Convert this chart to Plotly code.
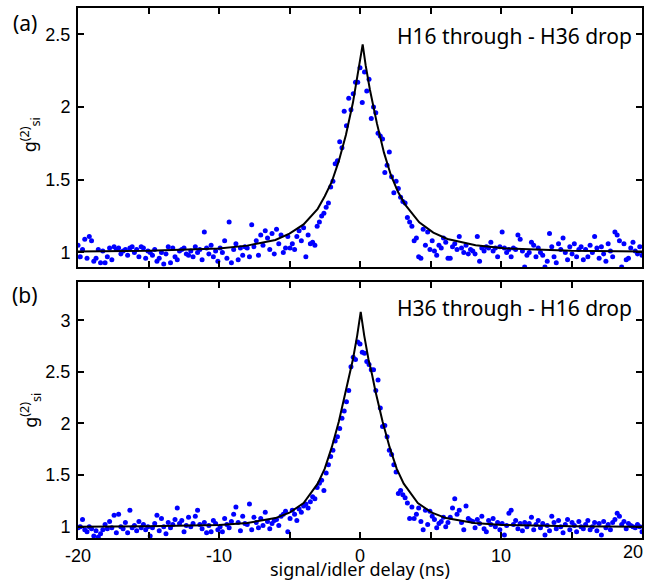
import numpy as np
import plotly.graph_objects as go

# ---------------- data ----------------
# delay bins (ns), 0.16 ns histogram bins from -20 to 20
delay_ns = np.round(np.arange(-20.0, 20.0001, 0.16), 2)

g2_a = [
    1.05, 0.97, 1.02, 1.09, 0.96, 1.11, 1.08, 0.94, 0.96, 1.02, 0.93, 1.01, 0.93, 0.97, 1.03, 0.95, 1.04, 1.02, 1.03, 0.99, 1.01, 1.02, 0.98, 1.03, 1.04,
    1.00, 1.02, 0.97, 1.04, 1.03, 0.96, 1.01, 1.00, 0.98, 1.02, 0.94, 0.96, 1.00, 0.92, 0.99, 1.04, 0.93, 1.03, 0.97, 0.95, 1.01, 1.02, 1.03, 0.99, 0.98,
    1.01, 0.97, 1.04, 1.00, 1.02, 0.95, 1.14, 1.03, 0.99, 1.05, 0.97, 1.01, 0.94, 1.03, 1.00, 1.08, 0.96, 1.21, 0.93, 1.02, 1.06, 0.95, 1.03, 0.98, 1.04,
    1.03, 0.97, 1.19, 1.04, 1.08, 0.98, 1.12, 1.05, 1.15, 1.10, 1.02, 1.13, 0.99, 1.16, 1.06, 1.12, 1.00, 1.03, 1.11, 1.03, 1.06, 1.02, 1.11, 1.15, 1.08,
    1.17, 0.97, 1.12, 1.06, 1.07, 1.05, 1.18, 1.21, 1.25, 1.27, 1.31, 1.34, 1.45, 1.49, 1.61, 1.63, 1.76, 1.72, 1.97, 1.87, 2.06, 1.98, 2.09, 2.17, 2.17,
    2.27, 2.03, 2.24, 2.11, 2.19, 1.92, 2.00, 1.96, 1.82, 1.80, 1.78, 1.55, 1.60, 1.69, 1.52, 1.41, 1.49, 1.44, 1.38, 1.35, 1.34, 1.24, 1.21, 1.18, 1.08,
    1.10, 0.97, 0.96, 1.16, 1.05, 1.14, 1.02, 1.08, 1.01, 0.98, 1.05, 1.03, 1.10, 1.07, 0.96, 0.96, 1.04, 1.06, 1.02, 1.11, 1.03, 1.00, 1.05, 0.99, 1.02,
    1.01, 0.99, 1.11, 0.94, 1.03, 1.01, 1.04, 1.03, 1.07, 1.01, 1.03, 0.97, 1.04, 1.14, 1.03, 1.00, 1.02, 0.97, 1.03, 1.02, 1.12, 1.09, 1.01, 0.90, 0.98,
    1.00, 1.07, 1.05, 0.97, 1.03, 1.00, 0.98, 0.90, 0.94, 1.13, 1.04, 0.97, 0.93, 1.06, 1.02, 1.10, 1.00, 0.95, 1.04, 0.99, 1.06, 0.97, 1.02, 1.04, 0.95,
    1.02, 0.97, 1.05, 1.00, 1.11, 1.03, 0.96, 1.04, 0.99, 0.94, 1.06, 1.01, 0.97, 1.14, 1.12, 1.08, 0.90, 1.06, 0.95, 0.96, 1.03, 1.07, 1.01, 0.99, 1.04,
    0.98,
]

g2_b = [
    0.99, 1.00, 1.07, 0.97, 0.95, 1.00, 0.98, 0.91, 0.96, 0.90, 0.93, 0.97, 1.02, 0.98, 1.05, 0.99, 1.11, 0.94, 1.12, 1.00, 0.98, 1.04, 0.94, 1.16, 0.99,
    1.01, 0.96, 1.05, 0.99, 1.02, 0.97, 1.00, 0.91, 0.99, 1.03, 1.11, 0.96, 1.08, 1.00, 0.93, 1.04, 0.99, 1.02, 1.07, 1.18, 1.03, 1.06, 0.95, 1.01, 1.09,
    1.00, 1.03, 1.10, 1.16, 1.02, 0.98, 1.04, 0.94, 1.01, 0.95, 1.06, 1.03, 0.97, 1.00, 0.95, 1.08, 1.02, 0.99, 1.05, 1.12, 1.19, 1.04, 0.96, 1.10, 1.03,
    1.02, 1.22, 0.97, 1.09, 1.04, 0.99, 1.08, 1.01, 1.14, 1.05, 0.98, 1.03, 1.06, 1.07, 1.01, 1.10, 1.12, 1.15, 0.95, 1.08, 1.16, 1.12, 1.06, 1.17, 1.14,
    1.20, 1.22, 1.18, 1.24, 1.29, 1.27, 1.38, 1.42, 1.45, 1.35, 1.52, 1.60, 1.68, 1.74, 1.83, 1.87, 1.95, 2.05, 2.12, 2.21, 2.32, 2.55, 2.64, 2.62, 2.79,
    2.77, 2.69, 2.68, 2.60, 2.57, 2.52, 2.52, 2.32, 2.42, 2.15, 1.97, 1.98, 1.87, 1.74, 1.70, 1.60, 1.53, 1.32, 1.35, 1.31, 1.28, 1.23, 1.08, 1.19, 1.08,
    1.12, 1.18, 1.05, 0.97, 1.16, 1.02, 1.15, 1.10, 1.07, 0.99, 1.03, 1.05, 1.09, 1.00, 1.04, 1.09, 1.18, 1.27, 1.12, 1.16, 1.04, 0.97, 1.20, 1.08, 1.06,
    1.05, 0.99, 1.07, 1.03, 1.10, 0.98, 0.95, 1.06, 1.02, 1.08, 1.00, 1.04, 0.97, 1.03, 0.92, 1.01, 1.13, 1.16, 1.02, 1.06, 0.98, 1.03, 0.96, 1.04, 1.00,
    1.03, 1.09, 0.97, 1.02, 1.06, 0.99, 1.03, 0.92, 1.01, 0.96, 1.10, 1.04, 0.98, 1.06, 1.00, 0.94, 1.02, 1.07, 0.97, 1.04, 1.01, 0.95, 1.05, 1.00, 0.98,
    1.02, 1.06, 0.97, 1.00, 1.04, 0.96, 1.03, 0.92, 1.05, 0.99, 1.02, 0.97, 1.04, 1.07, 1.13, 1.10, 1.02, 1.05, 0.98, 1.03, 1.01, 1.00, 0.99, 1.02, 1.00,
    0.95,
]

# fitted curves
fit_a_x = [-20, -15, -10, -8, -6, -5, -4, -3.5, -3, -2.5, -2, -1.5, -1, -0.5, -0.2, 0, 0.19,
           0.4, 0.7, 1.2, 1.7, 2.2, 2.7, 3.2, 3.9, 4.2, 5.2, 6.2, 8.2, 10.2, 15, 20]
fit_a_y = [1.006, 1.011, 1.027, 1.047, 1.086, 1.129, 1.193, 1.243, 1.300, 1.386, 1.486, 1.629, 1.808, 2.030, 2.194, 2.300, 2.430,
           2.287, 2.120, 1.887, 1.686, 1.529, 1.415, 1.329, 1.243, 1.207, 1.136, 1.093, 1.050, 1.029, 1.011, 1.006]

fit_b_x = [-20, -15, -10, -8, -6, -5, -4, -3, -2.5, -2, -1.5, -1, -0.75, -0.5, -0.2, 0.05,
           0.3, 0.6, 0.85, 1.1, 1.6, 2.1, 2.6, 3.1, 4.1, 5.1, 6.1, 8.1, 10.1, 15, 20]
fit_b_y = [1.000, 1.004, 1.017, 1.035, 1.083, 1.135, 1.229, 1.416, 1.562, 1.770, 2.019, 2.310, 2.477, 2.622, 2.851, 3.080,
           2.851, 2.622, 2.477, 2.310, 2.019, 1.770, 1.562, 1.416, 1.229, 1.135, 1.083, 1.035, 1.017, 1.004, 1.000]

x_tickvals = [-20, -15, -10, -5, 0, 5, 10, 15, 20]
x_ticktext = ["-20", "", "-10", "", "0", "", "10", "", ""]
x_last_label = "20"
ya_tickvals = [1, 1.5, 2, 2.5]
ya_ticktext = ["1", "1.5", "2", "2.5"]
yb_tickvals = [1, 1.5, 2, 2.5, 3]
yb_ticktext = ["1", "1.5", "2", "2.5", "3"]

# ---------------- figure ----------------
MARK = dict(color="#0000ff", size=5)
LINE = dict(color="black", width=2)

fig = go.Figure()
fig.add_trace(go.Scatter(x=delay_ns, y=g2_a, mode="markers", marker=MARK, xaxis="x", yaxis="y", showlegend=False))
fig.add_trace(go.Scatter(x=fit_a_x, y=fit_a_y, mode="lines", line=LINE, xaxis="x", yaxis="y", showlegend=False))
fig.add_trace(go.Scatter(x=delay_ns, y=g2_b, mode="markers", marker=MARK, xaxis="x2", yaxis="y2", showlegend=False))
fig.add_trace(go.Scatter(x=fit_b_x, y=fit_b_y, mode="lines", line=LINE, xaxis="x2", yaxis="y2", showlegend=False))

TICK_FAMILY = "Liberation Sans, Arial, sans-serif"
tickfont = dict(family=TICK_FAMILY, size=18, color="black")
axis_common = dict(showline=True, linecolor="black", linewidth=2, mirror="allticks",
                   ticks="inside", ticklen=6, tickwidth=1.5, tickcolor="black",
                   showgrid=False, zeroline=False, tickfont=tickfont, automargin=False)

fig.update_layout(
    width=646, height=582,
    margin=dict(l=78, r=4, t=8, b=44, autoexpand=False),
    paper_bgcolor="white", plot_bgcolor="white",
    xaxis=dict(domain=[0, 1], anchor="y", range=[-20, 20], tickvals=x_tickvals, ticktext=x_ticktext,
               showticklabels=False, **axis_common),
    yaxis=dict(domain=[0.5113, 1], anchor="x", range=[0.9, 2.68], tickvals=ya_tickvals, ticktext=ya_ticktext,
               ticklabelstandoff=2, **axis_common),
    xaxis2=dict(domain=[0, 1], anchor="y2", range=[-20, 20], tickvals=x_tickvals, ticktext=x_ticktext,
                ticklabelstandoff=0, **axis_common),
    yaxis2=dict(domain=[0, 0.483], anchor="x2", range=[0.89, 3.37], tickvals=yb_tickvals, ticktext=yb_ticktext,
                ticklabelstandoff=2, **axis_common),
)

lab_font = dict(family="Noto Sans, sans-serif", size=21, color="black")
ytitle_font = dict(family="Noto Sans, sans-serif", size=18, color="black")
ann = [
    dict(text="(a)", x=-0.094, y=0.972, xref="paper", yref="paper", xanchor="center", yanchor="middle",
         showarrow=False, font=lab_font),
    dict(text="(b)", x=-0.094, y=0.458, xref="paper", yref="paper", xanchor="center", yanchor="middle",
         showarrow=False, font=lab_font),
    dict(text="H16 through - H36 drop", x=0.986, y=0.947, xref="paper", yref="paper", xanchor="right",
         yanchor="middle", showarrow=False, font=lab_font),
    dict(text="H36 through - H16 drop", x=0.986, y=0.434, xref="paper", yref="paper", xanchor="right",
         yanchor="middle", showarrow=False, font=lab_font),
    dict(text="g<sup>(2)</sup><sub>si</sub>", x=-0.085, y=0.76, xref="paper", yref="paper", textangle=-90,
         xanchor="center", yanchor="middle", showarrow=False, font=ytitle_font),
    dict(text="g<sup>(2)</sup><sub>si</sub>", x=-0.085, y=0.24, xref="paper", yref="paper", textangle=-90,
         xanchor="center", yanchor="middle", showarrow=False, font=ytitle_font),
    dict(text=x_last_label, x=1.006, y=-0.027, xref="paper", yref="paper", xanchor="right", yanchor="middle",
         showarrow=False, font=tickfont),
    dict(text="signal/idler delay (ns)", x=0.5, y=-0.058, xref="paper", yref="paper",
         xanchor="center", yanchor="middle", showarrow=False,
         font=dict(family="Noto Sans, sans-serif", size=18, color="black")),
]
fig.update_layout(annotations=ann)

fig.write_html("out.html", config={"displayModeBar": False},
               post_script="document.body.style.margin='0';document.body.style.padding='0';")
